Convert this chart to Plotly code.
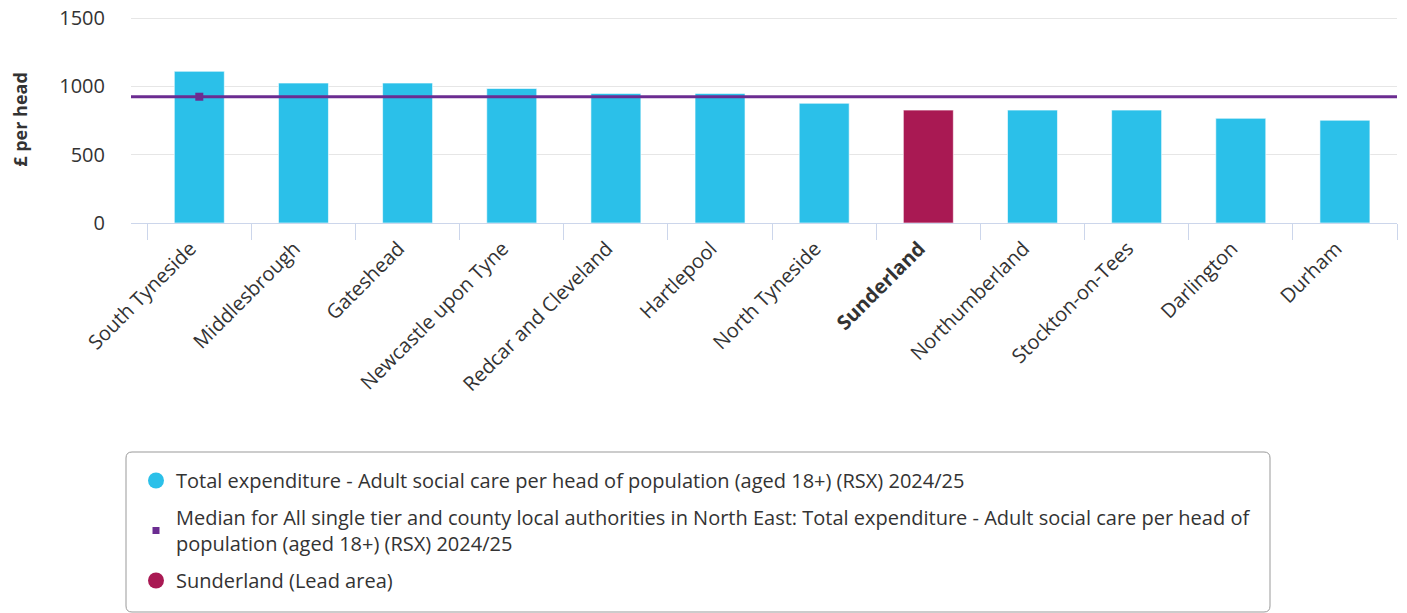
import plotly.graph_objects as go

categories = ["South Tyneside", "Middlesbrough", "Gateshead", "Newcastle upon Tyne",
              "Redcar and Cleveland", "Hartlepool", "North Tyneside", "Sunderland",
              "Northumberland", "Stockton-on-Tees", "Darlington", "Durham"]
values = [1110, 1024, 1024, 984, 948, 948, 876, 826, 826, 826, 766, 752]
median_value = 924
lead_area = "Sunderland"
y_ticks = [0, 500, 1000, 1500]

series_name = "Total expenditure - Adult social care per head of population (aged 18+) (RSX) 2024/25"
median_name = ("Median for All single tier and county local authorities in North East: Total expenditure - Adult social care per head of"
               "<br>population (aged 18+) (RSX) 2024/25")
lead_name = "Sunderland (Lead area)"

BLUE = "#2bc0e9"
LEAD = "#a91953"
PURPLE = "#6b2c91"
FONT = "Open Sans"
TXT = "#333333"

colors = [LEAD if c == lead_area else BLUE for c in categories]
ticktext = [f"<b>{c}</b>" if c == lead_area else c for c in categories]

# figure geometry (px); plot top sits 2px above the 1500 gridline so it is not clipped
W, H = 1407, 613
ML, MR, MT, MB = 131, 10, 16, 390
PW, PH = W - ML - MR, H - MT - MB
Y_TOP = y_ticks[-1] * PH / (PH - 2)


def px_to_paper_x(px):
    return (px - ML) / PW


def px_to_paper_y(py):
    return (H - MB - py) / PH


fig = go.Figure()
fig.add_trace(go.Bar(
    x=categories, y=values, marker=dict(color=colors, line=dict(color="rgba(255,255,255,0.6)", width=1)),
    showlegend=False, hoverinfo="x+y"))

# median marker at first category
fig.add_trace(go.Scatter(
    x=[categories[0]], y=[median_value], mode="markers",
    marker=dict(symbol="square", size=8, color=PURPLE), showlegend=False))

# median line across the plot
fig.add_shape(type="line", xref="paper", yref="y", x0=0, x1=1, y0=median_value, y1=median_value,
              line=dict(color=PURPLE, width=3), layer="above")

# legend entries
fig.add_trace(go.Scatter(x=[None], y=[None], mode="markers", name=series_name, legendgroup="a",
                         marker=dict(symbol="circle", size=18, color=BLUE)))
fig.add_trace(go.Scatter(x=[None], y=[None], mode="markers", name=median_name, legendgroup="b",
                         marker=dict(symbol="square", size=7, color=PURPLE)))
fig.add_trace(go.Scatter(x=[None], y=[None], mode="markers", name=lead_name, legendgroup="c",
                         marker=dict(symbol="circle", size=18, color=LEAD)))

# rounded legend box
bx0, bx1, by0, by1, r = 126, 1270, 452, 612, 6
X = px_to_paper_x
Y = px_to_paper_y
path = (f"M {X(bx0 + r)},{Y(by0)} L {X(bx1 - r)},{Y(by0)} Q {X(bx1)},{Y(by0)} {X(bx1)},{Y(by0 + r)} "
        f"L {X(bx1)},{Y(by1 - r)} Q {X(bx1)},{Y(by1)} {X(bx1 - r)},{Y(by1)} "
        f"L {X(bx0 + r)},{Y(by1)} Q {X(bx0)},{Y(by1)} {X(bx0)},{Y(by1 - r)} "
        f"L {X(bx0)},{Y(by0 + r)} Q {X(bx0)},{Y(by0)} {X(bx0 + r)},{Y(by0)} Z")
fig.add_shape(type="path", xref="paper", yref="paper", path=path,
              line=dict(color="#999999", width=1), fillcolor="rgba(0,0,0,0)", layer="below")

fig.update_layout(
    width=W, height=H,
    margin=dict(l=ML, r=MR, t=MT, b=MB, autoexpand=False),
    paper_bgcolor="white", plot_bgcolor="white",
    font=dict(family=FONT, size=20, color=TXT),
    bargap=0.52,
    legend=dict(
        x=px_to_paper_x(136), y=px_to_paper_y(461), xanchor="left", yanchor="top",
        borderwidth=0, bgcolor="rgba(0,0,0,0)",
        font=dict(family=FONT, size=20, color=TXT),
        itemsizing="trace", tracegroupgap=8,
    ),
)
fig.update_xaxes(
    type="category", tickmode="array", tickvals=categories, ticktext=ticktext,
    tickangle=-45, showline=True, linecolor="#ccd6eb", linewidth=1,
    ticks="outside", tickson="boundaries", ticklen=16, tickcolor="#ccd6eb",
    ticklabelshift=-9, ticklabelstandoff=5,
    showgrid=False, automargin=False, tickfont=dict(family=FONT, size=20, color=TXT),
)
fig.update_yaxes(
    range=[0, Y_TOP], tickvals=y_ticks, showgrid=True, gridcolor="#e6e6e6", gridwidth=1,
    zeroline=False, showline=False, ticks="outside", ticklen=21, tickcolor="rgba(0,0,0,0)",
    ticklabeloverflow="allow",
    automargin=False, tickfont=dict(family=FONT, size=20, color=TXT),
    title=dict(text="<b>£ per head</b>", font=dict(family=FONT, size=18, color=TXT), standoff=26),
)

fig.write_html("out.html", config={"displayModeBar": False},
               post_script="document.body.style.margin='0';")
